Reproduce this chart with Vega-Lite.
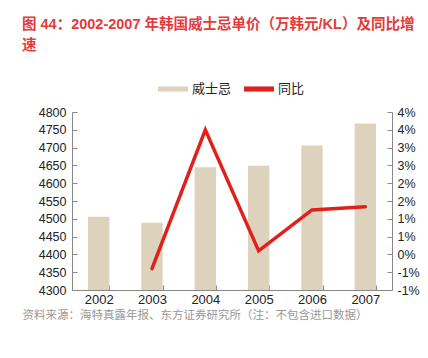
{
  "$schema": "https://vega.github.io/schema/vega-lite/v6.json",
  "width": 320,
  "height": 178,
  "autosize": {"type": "none"},
  "padding": {"left": 72, "top": 112, "right": 36, "bottom": 68},
  "background": "white",
  "title": {
    "text": ["图 44：2002-2007 年韩国威士忌单价（万韩元/KL）及同比增", "速"],
    "anchor": "start",
    "frame": "group",
    "dx": -50,
    "dy": -17,
    "color": "#E23B3B",
    "font": "Liberation Sans, Noto Sans CJK SC",
    "fontSize": 14.5,
    "fontWeight": "bold",
    "lineHeight": 21,
    "baseline": "top"
  },
  "config": {
    "view": {"stroke": null},
    "font": "Liberation Sans, Noto Sans CJK SC"
  },
  "data": {
    "values": [
      {"year": "2002", "price": 4506, "yoy": null},
      {"year": "2003", "price": 4489, "yoy": -0.4},
      {"year": "2004", "price": 4645, "yoy": 3.5},
      {"year": "2005", "price": 4649, "yoy": 0.1},
      {"year": "2006", "price": 4706, "yoy": 1.25},
      {"year": "2007", "price": 4768, "yoy": 1.34}
    ]
  },
  "encoding": {
    "x": {
      "field": "year",
      "type": "ordinal",
      "scale": {"paddingInner": 0.6, "paddingOuter": 0.3},
      "axis": {
        "labelAngle": 0,
        "tickBand": "extent",
        "tickSize": -5,
        "labelPadding": 8,
        "domainColor": "#888888",
        "tickColor": "#888888",
        "labelColor": "#222222",
        "labelFontSize": 13,
        "labelFont": "Liberation Sans",
        "title": "资料来源：海特真露年报、东方证券研究所（注：不包含进口数据）",
        "titleFont": "Noto Sans CJK SC",
        "titleFontSize": 11.5,
        "titleFontWeight": "normal",
        "titleColor": "#999999",
        "titleAnchor": "start",
        "titleAlign": "left",
        "titleBaseline": "middle",
        "titleX": -50,
        "titleY": 25
      }
    }
  },
  "layer": [
    {
      "mark": {"type": "bar", "clip": true},
      "encoding": {
        "y": {
          "field": "price",
          "type": "quantitative",
          "scale": {"domain": [4300, 4800], "zero": false, "nice": false},
          "axis": {
            "values": [4300, 4350, 4400, 4450, 4500, 4550, 4600, 4650, 4700, 4750, 4800],
            "format": "d",
            "title": null,
            "grid": false,
            "tickSize": -5,
            "labelPadding": 11,
            "domainColor": "#888888",
            "tickColor": "#888888",
            "labelColor": "#222222",
            "labelFontSize": 12.5,
            "labelFont": "Liberation Sans"
          }
        },
        "color": {
          "datum": "威士忌",
          "type": "nominal",
          "scale": {"domain": ["威士忌", "同比"], "range": ["#DDD3BC", "#E0201B"]},
          "legend": {
            "orient": "none",
            "legendX": 86,
            "legendY": -38,
            "direction": "horizontal",
            "title": null,
            "labelFont": "Noto Sans CJK SC",
            "labelFontSize": 13,
            "labelColor": "#222222",
            "columnPadding": 12,
            "labelOffset": 4,
            "symbolType": "M-1,-0.17H1V0.17H-1Z",
            "symbolSize": 900,
            "symbolStrokeWidth": 0
          }
        }
      }
    },
    {
      "mark": {"type": "line", "strokeWidth": 3.5, "strokeCap": "round"},
      "encoding": {
        "y": {
          "field": "yoy",
          "type": "quantitative",
          "scale": {"domain": [-1, 4], "zero": false, "nice": false},
          "axis": {
            "orient": "right",
            "values": [-1, -0.5, 0, 0.5, 1, 1.5, 2, 2.5, 3, 3.5, 4],
            "labelExpr": "datum.value < 0 ? '-' + round(-datum.value) + '%' : round(datum.value) + '%'",
            "title": null,
            "grid": false,
            "tickSize": -5,
            "labelPadding": 10,
            "domainColor": "#888888",
            "tickColor": "#888888",
            "labelColor": "#222222",
            "labelFontSize": 12.5,
            "labelFont": "Liberation Sans"
          }
        },
        "color": {"datum": "同比", "type": "nominal"}
      }
    }
  ],
  "resolve": {"scale": {"y": "independent"}}
}
